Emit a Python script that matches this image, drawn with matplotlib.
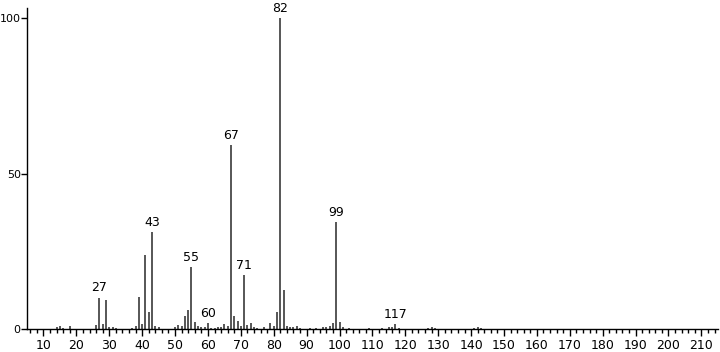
import matplotlib.pyplot as plt
from matplotlib.ticker import MultipleLocator

plt.rcParams['font.family'] = 'DejaVu Sans'
plt.rcParams['font.size'] = 9

# m/z and relative intensity
MZ = [14, 15, 16, 18, 26, 27, 28, 29, 30, 31, 32, 37, 38, 39, 40, 41, 42, 43, 44, 45,
      50, 51, 52, 53, 54, 55, 56, 57, 58, 59, 60, 61, 62, 63, 64, 65, 66, 67, 68, 69,
      70, 71, 72, 73, 74, 75, 77, 79, 80, 81, 82, 83, 84, 85, 86, 87, 88, 91, 93, 95,
      96, 97, 98, 99, 100, 101, 103, 109, 113, 115, 116, 117, 118, 127, 128, 129,
      141, 142, 143]
INTENSITY = [0.8, 1.2, 0.5, 1.0, 1.5, 10.2, 1.7, 9.4, 0.8, 0.8, 0.5, 0.5, 1.0, 10.4, 1.7, 23.9, 5.6, 31.2, 1.2, 0.6,
             0.8, 1.5, 1.0, 4.4, 6.2, 20.1, 2.3, 1.0, 0.8, 0.8, 2.0, 0.5, 0.5, 0.6, 0.6, 1.8, 1.0, 59.3, 4.3, 2.7,
             1.0, 17.5, 1.5, 2.0, 0.8, 0.5, 0.6, 2.0, 1.0, 5.7, 100.0, 12.6, 1.0, 0.8, 0.6, 1.0, 0.5, 0.5, 0.5, 0.8,
             0.8, 1.2, 2.1, 34.5, 2.4, 0.6, 0.4, 0.3, 0.3, 0.6, 0.8, 1.6, 0.4, 0.4, 0.6, 0.4,
             0.4, 0.7, 0.3]
LABELED = [27, 43, 55, 60, 67, 71, 82, 99, 117]

fig = plt.figure(figsize=(7.2, 3.52), dpi=100)
ax = fig.add_axes([0.0375, 0.0645, 0.9595, 0.9125])

ax.vlines(MZ, 0, INTENSITY, colors='#3a3a3a', linewidth=1.2)

# peak labels
for mz, inten in zip(MZ, INTENSITY):
    if mz in LABELED:
        ax.text(mz, inten + 1.0, str(mz), ha='center', va='bottom', fontsize=9)

ax.set_xlim(5, 215)
ax.set_ylim(0, 103.3)

ax.xaxis.set_major_locator(MultipleLocator(10))
ax.xaxis.set_minor_locator(MultipleLocator(2))
ax.set_xticks(range(10, 211, 10))
ax.set_yticks([0, 50, 100])

ax.tick_params(axis='x', which='major', direction='out', length=5, width=1, pad=2)
ax.tick_params(axis='x', which='minor', direction='out', length=3, width=1)
ax.tick_params(axis='y', which='major', direction='out', length=4, width=1, pad=0.5,
               labelsize=8)

for side in ['top', 'right']:
    ax.spines[side].set_visible(False)
for side in ['left', 'bottom']:
    ax.spines[side].set_linewidth(1)

fig.savefig('out.png', dpi=100, facecolor='white')
plt.close(fig)
